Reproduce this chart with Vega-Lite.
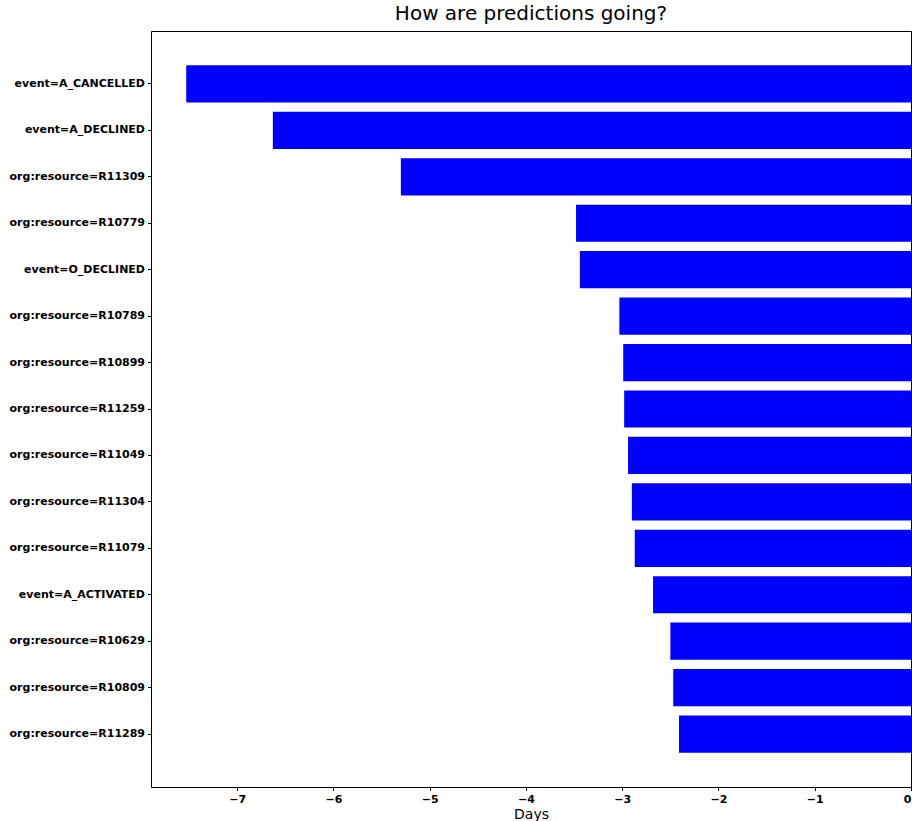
{
  "$schema": "https://vega.github.io/schema/vega-lite/v6.json",
  "autosize": "none",
  "padding": {"left": 151, "top": 31, "right": 1, "bottom": 34},
  "width": 760,
  "height": 756,
  "background": "white",
  "title": {
    "text": "How are predictions going?",
    "font": "DejaVu Sans",
    "fontSize": 20,
    "fontWeight": "normal",
    "color": "black",
    "anchor": "middle",
    "offset": 7
  },
  "config": {
    "view": {"stroke": "black", "strokeWidth": 1},
    "font": "DejaVu Sans"
  },
  "data": {
    "values": [
      {"feature": "event=A_CANCELLED", "days": -7.53},
      {"feature": "event=A_DECLINED", "days": -6.63},
      {"feature": "org:resource=R11309", "days": -5.30},
      {"feature": "org:resource=R10779", "days": -3.48},
      {"feature": "event=O_DECLINED", "days": -3.44},
      {"feature": "org:resource=R10789", "days": -3.03},
      {"feature": "org:resource=R10899", "days": -2.99},
      {"feature": "org:resource=R11259", "days": -2.98},
      {"feature": "org:resource=R11049", "days": -2.94},
      {"feature": "org:resource=R11304", "days": -2.90},
      {"feature": "org:resource=R11079", "days": -2.87},
      {"feature": "event=A_ACTIVATED", "days": -2.68},
      {"feature": "org:resource=R10629", "days": -2.50},
      {"feature": "org:resource=R10809", "days": -2.47},
      {"feature": "org:resource=R11289", "days": -2.41}
    ]
  },
  "mark": {"type": "bar", "color": "#0000ff"},
  "encoding": {
    "y": {
      "field": "feature",
      "type": "nominal",
      "sort": null,
      "scale": {"paddingInner": 0.2, "paddingOuter": 0.74},
      "axis": {
        "title": null,
        "labelFont": "DejaVu Sans",
        "labelFontSize": 11,
        "labelFontWeight": "bold",
        "labelColor": "black",
        "tickColor": "black",
        "tickSize": 3.5,
        "labelPadding": 3,
        "domain": false,
        "grid": false
      }
    },
    "x": {
      "field": "days",
      "type": "quantitative",
      "scale": {"domain": [-7.896, 0], "nice": false, "zero": false},
      "axis": {
        "title": "Days",
        "titleFont": "DejaVu Sans",
        "titleFontSize": 14,
        "titleFontWeight": "normal",
        "titleColor": "black",
        "titlePadding": 3,
        "values": [-7, -6, -5, -4, -3, -2, -1, 0],
        "format": "d",
        "labelFont": "DejaVu Sans",
        "labelFontSize": 11,
        "labelFontWeight": "bold",
        "labelColor": "black",
        "tickColor": "black",
        "tickSize": 3.5,
        "labelPadding": 3,
        "domain": false,
        "grid": false
      }
    }
  }
}
